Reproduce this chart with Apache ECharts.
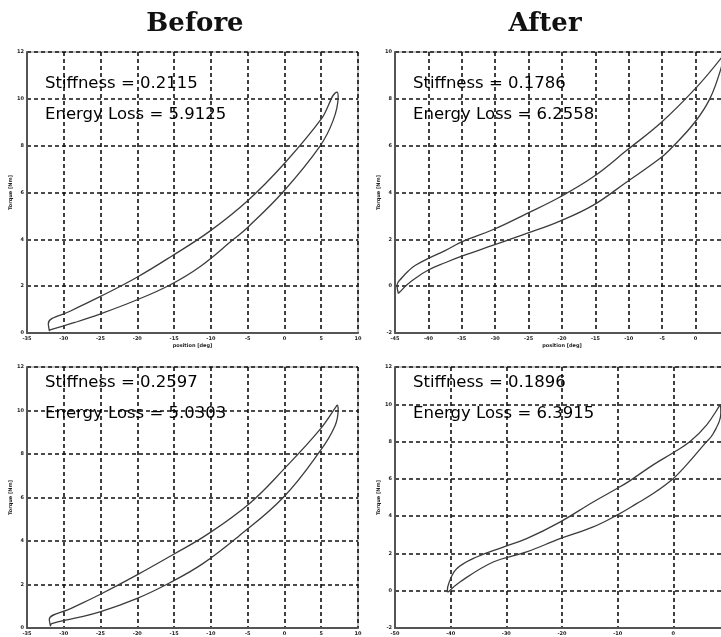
<!DOCTYPE html>
<html>
<head>
<meta charset="utf-8">
<script src="https://cdn.jsdelivr.net/npm/echarts@6/dist/echarts.min.js"></script>
<style>html,body{margin:0;padding:0;background:#fff;}#c{width:721px;height:637px;}</style>
</head>
<body>
<div id="c"></div>
<script>
// ---- data (position [deg], torque [Nm]) ----
var panelTitles = ['Before', 'After'];
var stiffness = ['0.2115', '0.1786', '0.2597', '0.1896'];
var energyLoss = ['5.9125', '6.2558', '5.0303', '6.3915'];

// Before, top
var tlLoading = [[-31.95,0.08],[-31.87,0.13],[-28.5,0.45],[-25.08,0.81],[-20.10,1.41],[-15.57,2.05],[-11.49,2.83],[-6.97,3.99],[-4.93,4.53],[-0.17,6.03],[4.81,7.97],[6.62,9.08],[7.30,10.08],[7.17,10.29]];
var tlUnloading = [[7.17,10.29],[5.04,9.15],[0.05,7.26],[-4.93,5.67],[-10.14,4.35],[-15.34,3.28],[-20.10,2.37],[-25.08,1.55],[-29.0,0.95],[-32.10,0.41],[-31.95,0.08]];
// After, top
var trLoading = [[-44.51,-0.31],[-44.25,-0.24],[-43.25,0.05],[-42.0,0.33],[-40.0,0.69],[-37.5,1.0],[-35.0,1.28],[-30.28,1.75],[-25.28,2.25],[-20.30,2.78],[-15.31,3.46],[-10.31,4.45],[-5.31,5.46],[-3.38,5.97],[-0.09,7.01],[2.16,8.02],[3.80,9.30],[4.25,9.98]];
var trUnloading = [[4.25,9.98],[3.80,9.73],[0.16,8.50],[-5.07,7.01],[-10.31,5.80],[-15.31,4.67],[-20.30,3.81],[-25.28,3.10],[-30.28,2.42],[-35.0,1.89],[-37.5,1.52],[-40.0,1.19],[-42.0,0.88],[-43.0,0.65],[-44.0,0.35],[-44.70,0.05],[-44.51,-0.31]];
// Before, bottom
var blLoading = [[-31.80,0.08],[-31.65,0.2],[-28.5,0.45],[-25.08,0.74],[-20.10,1.35],[-15.57,2.08],[-11.04,2.97],[-6.29,4.2],[-0.17,6.0],[4.81,8.12],[6.85,9.28],[7.30,10.05],[7.17,10.25]];
var blUnloading = [[7.17,10.25],[7.07,10.2],[4.81,9.12],[0.05,7.35],[-4.70,5.74],[-10.59,4.28],[-15.12,3.38],[-20.10,2.43],[-25.08,1.54],[-29.0,0.90],[-31.97,0.40],[-31.80,0.08]];
// After, bottom
var brLoading = [[-40.43,-0.07],[-38.33,0.47],[-32.35,1.54],[-26.36,2.08],[-20.38,2.79],[-14.40,3.42],[-10.20,4.04],[-6.61,4.67],[-3.63,5.21],[-0.04,6.01],[2.37,6.75],[5.66,7.89],[7.15,8.42],[8.53,9.50],[8.45,9.98]];
var brUnloading = [[8.45,9.98],[8.35,9.94],[6.0,8.9],[3.0,8.0],[-0.04,7.4],[-3.63,6.75],[-7.9,5.88],[-10.20,5.47],[-14.40,4.76],[-20.38,3.68],[-26.36,2.79],[-30.56,2.34],[-35.33,1.81],[-38.92,1.18],[-40.25,0.47],[-40.61,-0.03],[-40.43,-0.07]];

// axis ranges (min, max, interval)
var xRanges = [[-35,10,5],[-45,5,5],[-35,10,5],[-50,10,10]];
var yRanges = [[0,12,2],[-2,10,2],[0,12,2],[-2,12,2]];
var xName = 'position [deg]';
var yName = 'Torque [Nm]';

var curves = [[tlLoading, tlUnloading],[trLoading, trUnloading],[blLoading, blUnloading],[brLoading, brUnloading]];

// ---- layout ----
var grids = [
  {left: 27, top: 52, width: 331, height: 281},
  {left: 395, top: 52, width: 334, height: 281},
  {left: 27, top: 367, width: 331, height: 261},
  {left: 395, top: 367, width: 334, height: 261}
];
var textPos = [[45, 85, 116], [413, 85, 116], [45, 384, 415], [413, 384, 415]];

var gridOpts = grids.map(function (g) {
  return Object.assign({show: true, borderColor: '#8a8a8a', borderWidth: 1, backgroundColor: '#fff',
    containLabel: false, outerBoundsMode: 'none'}, g);
});

var splitStyle = {show: true, lineStyle: {color: '#111', width: 1.6, type: [4, 3]}};
var axisLineStyle = {show: true, onZero: false, lineStyle: {color: '#555', width: 2}};
var tinyLabel = {fontSize: 5, color: '#222', fontWeight: 'bold', margin: 3, fontFamily: 'DejaVu Sans'};

var xAxes = xRanges.map(function (r, i) {
  return {
    type: 'value', gridIndex: i, min: r[0], max: r[1], interval: r[2],
    axisLine: axisLineStyle, axisTick: {show: false}, splitLine: splitStyle,
    axisLabel: tinyLabel,
    name: xName, nameLocation: 'middle', nameGap: 10,
    nameTextStyle: {fontSize: 5, color: '#222', fontWeight: 'bold', fontFamily: 'DejaVu Sans'}
  };
});
var yAxes = yRanges.map(function (r, i) {
  return {
    type: 'value', gridIndex: i, min: r[0], max: r[1], interval: r[2],
    axisLine: axisLineStyle, axisTick: {show: false}, splitLine: splitStyle,
    axisLabel: tinyLabel,
    name: yName, nameLocation: 'middle', nameGap: 12, nameRotate: 90,
    nameTextStyle: {fontSize: 5, color: '#222', fontWeight: 'bold', fontFamily: 'DejaVu Sans'}
  };
});

var series = [];
curves.forEach(function (c, i) {
  series.push({
    type: 'line', xAxisIndex: i, yAxisIndex: i,
    data: c[0].concat(c[1]),
    showSymbol: false, smooth: 0.4, clip: true, silent: true,
    lineStyle: {color: '#3c3c3c', width: 1.3}
  });
});

var graphics = [];
textPos.forEach(function (p, i) {
  graphics.push({type: 'text', left: p[0], top: p[1] - 10, z: 100,
    style: {text: 'Stiffness = ' + stiffness[i], font: '16.5px "DejaVu Sans"', fill: '#000'}});
  graphics.push({type: 'text', left: p[0], top: p[2] - 10, z: 100,
    style: {text: 'Energy Loss = ' + energyLoss[i], font: '16.5px "DejaVu Sans"', fill: '#000'}});
});

var titles = [
  {text: panelTitles[0], left: 190, top: 6, textAlign: 'center',
   textStyle: {fontFamily: 'DejaVu Serif', fontWeight: 'bold', fontSize: 26, color: '#111'}},
  {text: panelTitles[1], left: 540, top: 6, textAlign: 'center',
   textStyle: {fontFamily: 'DejaVu Serif', fontWeight: 'bold', fontSize: 26, color: '#111'}}
];

var chart = echarts.init(document.getElementById('c'), null, {renderer: 'canvas'});
chart.setOption({
  animation: false,
  backgroundColor: '#fff',
  title: titles,
  grid: gridOpts,
  xAxis: xAxes,
  yAxis: yAxes,
  series: series,
  graphic: graphics
});
</script>
</body>
</html>
